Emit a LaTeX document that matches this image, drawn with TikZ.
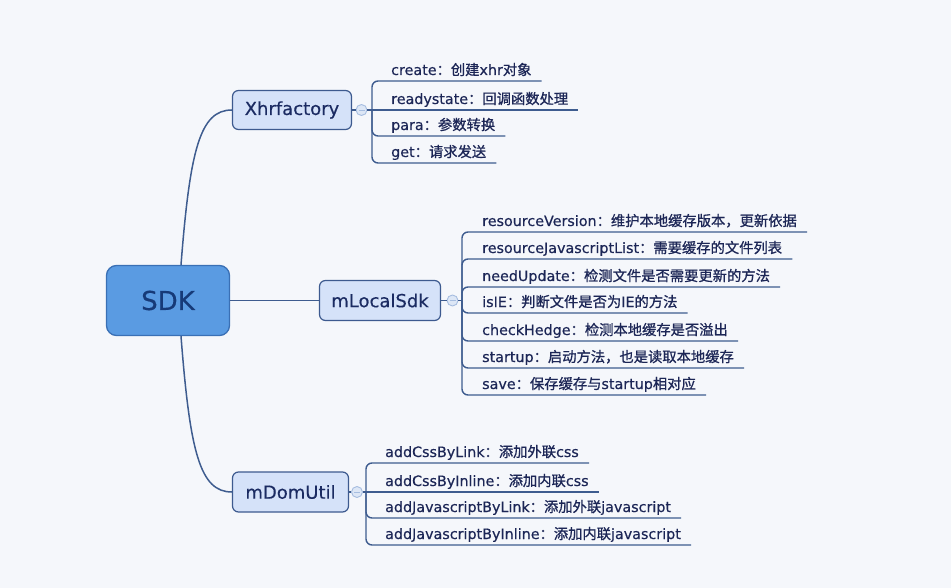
\documentclass[tikz,border=0pt]{standalone}
\usepackage{fontspec}
\setmainfont{DejaVu Sans}
\newfontfamily\latinfont[FakeBold=0.4]{DejaVu Sans}
\newfontfamily\cjkfont[FakeBold=0.9]{Noto Sans CJK SC}
\newcommand{\zh}[1]{{\cjkfont #1}}
\usetikzlibrary{calc}
\definecolor{bgc}{HTML}{F5F7FB}
\definecolor{rootfill}{HTML}{5A9BE2}
\definecolor{rootline}{HTML}{3A70B5}
\definecolor{roottext}{HTML}{163A78}
\definecolor{topicfill}{HTML}{D5E2F9}
\definecolor{topicline}{HTML}{3D5A8F}
\definecolor{topictext}{HTML}{1B2B62}
\definecolor{linec}{HTML}{3E5C8F}
\definecolor{leaftext}{HTML}{1C2656}
\definecolor{foldfill}{HTML}{DDE7F6}
\definecolor{foldline}{HTML}{A6BDE0}
\tikzset{
  rootbox/.style={draw=rootline, fill=rootfill, line width=1.3pt, rounded corners=10pt,
    text=roottext, font=\latinfont\fontsize{26}{30}\selectfont, inner sep=0pt},
  topicbox/.style={draw=topicline, fill=topicfill, line width=1.2pt, rounded corners=6pt,
    text=topictext, font=\latinfont\fontsize{18}{22}\selectfont, inner sep=0pt},
  leaf/.style={anchor=base west, inner sep=0pt, text=leaftext, font=\latinfont\fontsize{14.3}{17}\selectfont},
  mainline/.style={draw=linec, line width=1.5pt},
  branch/.style={draw=linec, line width=1.4pt, rounded corners=6pt},
  fold/.style={circle, draw=foldline, fill=foldfill, line width=0.9pt, minimum size=11pt, inner sep=0pt},
  foldminus/.style={draw=foldline, line width=0.9pt}
}
\begin{document}
\begin{tikzpicture}[x=1pt,y=-1pt]
\fill[bgc] (0,0) rectangle (951,588);
\useasboundingbox (0,0) rectangle (951,588);

% main topics
\node[rootbox, minimum width=123pt, minimum height=70pt] (sdk) at (168,300.5) {SDK};
\node[topicbox, minimum width=119pt, minimum height=39pt] (xhr) at (292,110) {Xhrfactory};
\node[topicbox, minimum width=121pt, minimum height=40pt] (mls) at (380,300.5) {mLocalSdk};
\node[topicbox, minimum width=116pt, minimum height=40pt] (mdu) at (290.5,492) {mDomUtil};

\draw[mainline] ([xshift=13pt]sdk.north) .. controls +(9,-115) and +(-32,0) .. (xhr.west);
\draw[mainline] (sdk.east) -- (mls.west);
\draw[mainline] ([xshift=13pt]sdk.south) .. controls +(9,116) and +(-32,0) .. (mdu.west);

% fold circles
\node[fold] (f1) at (361.5,110) {};
\node[fold] (f2) at (452.5,300.5) {};
\node[fold] (f3) at (357,492) {};
\foreach \f in {f1,f2,f3}{\draw[foldminus] ([xshift=-3pt]\f.center) -- ([xshift=3pt]\f.center);}
\draw[branch] (xhr.east) -- (f1.west);
\draw[branch] (mls.east) -- (f2.west);
\draw[branch] (mdu.east) -- (f3.west);

\coordinate (v1) at (372,110);
\coordinate (v2) at (462,300.5);
\coordinate (v3) at (366,492);
\draw[branch] (f2.east) -- (v2);

% Xhrfactory children
\node[leaf] (x1) at (391,75) {create\zh{：创建}xhr\zh{对象}};
\node[leaf] (x2) at (391,104) {readystate\zh{：回调函数处理}};
\node[leaf] (x3) at (391,130) {para\zh{：参数转换}};
\node[leaf] (x4) at (391,157) {get\zh{：请求发送}};
\draw[branch] (v1) |- ($(x1.base east)+(10,6)$);
\draw[branch] (f1.east) -- ($(x2.base east)+(10,6)$);
\draw[branch] (v1) |- ($(x3.base east)+(10,6)$);
\draw[branch] (v1) |- ($(x4.base east)+(10,6)$);

% mLocalSdk children
\node[leaf] (l1) at (482,226) {resourceVersion\zh{：维护本地缓存版本，更新依据}};
\node[leaf] (l2) at (482,253) {resourceJavascriptList\zh{：需要缓存的文件列表}};
\node[leaf] (l3) at (482,281) {needUpdate\zh{：检测文件是否需要更新的方法}};
\node[leaf] (l4) at (482,307) {isIE\zh{：判断文件是否为}IE\zh{的方法}};
\node[leaf] (l5) at (482,335) {checkHedge\zh{：检测本地缓存是否溢出}};
\node[leaf] (l6) at (482,362) {startup\zh{：启动方法，也是读取本地缓存}};
\node[leaf] (l7) at (482,389) {save\zh{：保存缓存与}startup\zh{相对应}};
\foreach \c in {l1,l2,l3,l4,l5,l6,l7}{\draw[branch] (v2) |- ($(\c.base east)+(10,6)$);}

% mDomUtil children
\node[leaf] (d1) at (385,457) {addCssByLink\zh{：添加外联}css};
\node[leaf] (d2) at (385,486) {addCssByInline\zh{：添加内联}css};
\node[leaf] (d3) at (385,512) {addJavascriptByLink\zh{：添加外联}javascript};
\node[leaf] (d4) at (385,539) {addJavascriptByInline\zh{：添加内联}javascript};
\draw[branch] (v3) |- ($(d1.base east)+(10,6)$);
\draw[branch] (f3.east) -- ($(d2.base east)+(10,6)$);
\draw[branch] (v3) |- ($(d3.base east)+(10,6)$);
\draw[branch] (v3) |- ($(d4.base east)+(10,6)$);
\end{tikzpicture}
\end{document}
